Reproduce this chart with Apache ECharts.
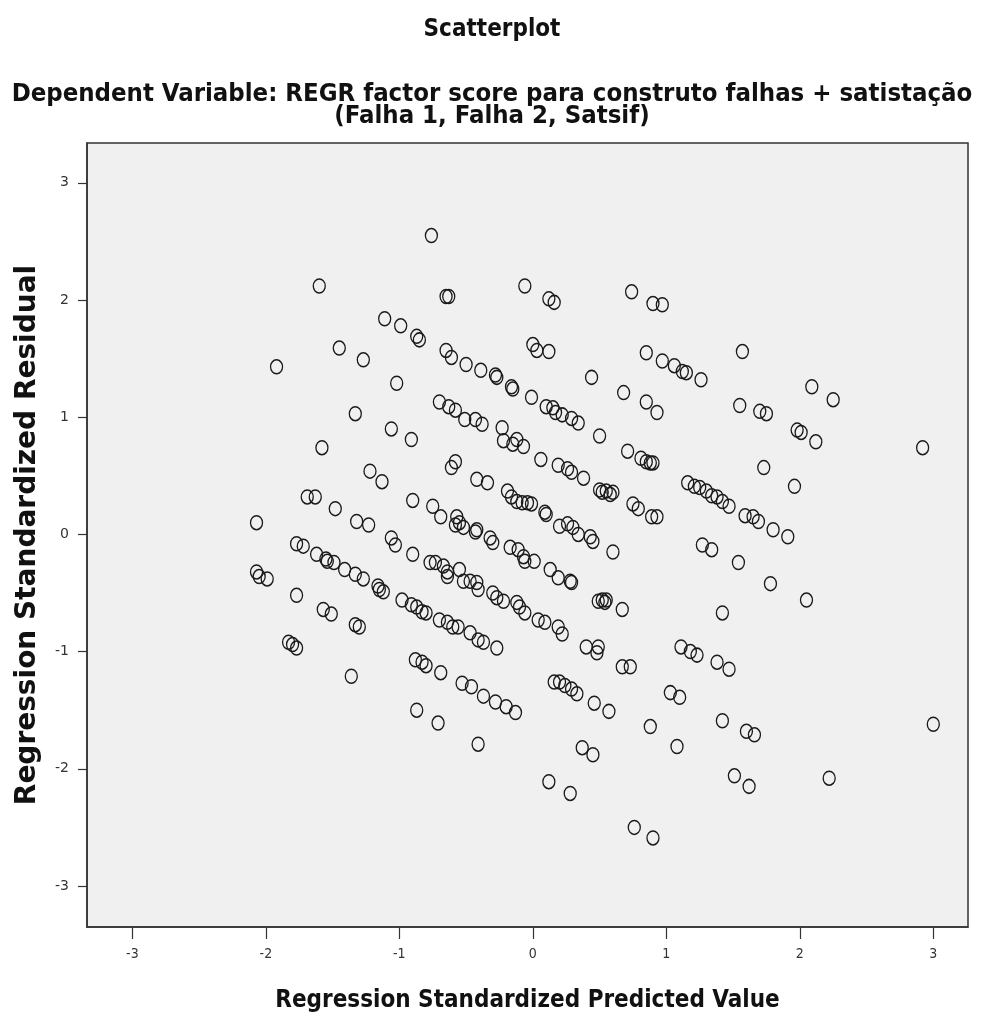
<!DOCTYPE html>
<html>
<head>
<meta charset="utf-8">
<script src="https://cdn.jsdelivr.net/npm/echarts@6/dist/echarts.min.js"></script>
<style>html,body{margin:0;padding:0;background:#fff}#c{width:984px;height:1020px}</style>
</head>
<body>
<div id="c"></div>
<script>
// Regression Standardized Predicted Value (x)
const predicted = [
-0.76,-1.60,-0.65,-0.63,-1.11,-0.99,-0.87,-0.85,-1.45,-1.27,-0.65,-0.61,-0.50,-0.39,-1.92,-1.02,-0.70,-0.63,-0.58,-0.51,-0.43,-1.33,-1.06,
-0.06,0.12,0.16,0.74,0.90,0.97,0.00,0.03,0.12,0.85,0.97,1.06,1.12,1.15,1.26,0.44,0.68,0.85,0.93,-0.28,-0.27,-0.16,-0.15,-0.01,0.10,0.15,0.17,0.22,0.29,0.34,-0.38,-0.23,
1.57,2.09,2.25,1.55,1.70,1.75,1.98,2.01,
2.12,2.92,1.73,1.96,1.16,1.21,1.25,1.30,1.34,1.38,1.42,1.47,1.59,1.65,1.69,1.80,1.91,1.27,1.34,1.54,1.78,2.05,1.42,
-0.91,-1.58,-1.22,-1.13,-0.61,-0.58,-0.42,-1.69,-1.63,-1.48,-0.90,-0.75,-0.69,-0.57,-0.55,-0.58,-0.52,-0.43,-0.42,-2.07,-1.32,-1.23,-1.06,-1.03,-0.90,
-1.77,-1.72,-1.62,-1.55,-1.54,-1.49,-1.41,-1.33,-1.27,-1.16,-1.15,-1.12,
-0.77,-0.73,-0.67,-0.64,-0.64,-0.55,-0.52,-0.47,-0.42,-0.41,
-2.07,-2.05,-1.99,-1.77,-0.98,-0.91,-0.87,-0.83,-0.80,-1.57,-1.51,-1.33,-1.30,-0.70,-0.64,-0.60,-0.56,
-0.22,-0.15,-0.12,-0.07,0.50,0.71,0.81,0.85,0.88,0.90,0.06,0.19,0.26,0.29,0.38,-0.34,
0.50,0.52,0.55,0.58,0.60,-0.19,-0.16,-0.12,-0.08,-0.04,-0.01,0.09,0.10,0.75,0.79,0.89,0.93,
0.20,0.26,0.30,0.34,0.43,0.45,0.60,-0.32,-0.30,-0.17,-0.11,-0.07,-0.06,0.01,0.13,0.19,0.28,0.29,
0.49,0.52,0.55,0.54,0.67,-0.30,-0.27,-0.22,-0.12,-0.10,-0.06,0.04,0.09,0.19,
0.22,0.40,0.49,0.48,0.67,0.73,1.11,1.18,1.23,-0.47,-0.41,-0.37,-0.27,-0.46,-0.37,-0.28,-0.20,-0.13,
0.16,0.20,0.24,0.29,0.33,0.46,0.57,1.03,1.10,0.88,1.08,-0.41,0.37,0.45,0.12,0.28,0.76,0.90,
-1.83,-1.80,-1.77,-0.88,-0.83,-0.80,-0.69,-0.53,-1.36,-0.87,-0.71,
1.38,1.47,1.42,1.60,1.66,3.00,1.51,1.62,2.22
];
// Regression Standardized Residual (y)
const residual = [
2.55,2.12,2.03,2.03,1.84,1.78,1.69,1.66,1.59,1.49,1.57,1.51,1.45,1.40,1.43,1.29,1.13,1.09,1.06,0.98,0.98,1.03,0.90,
2.12,2.01,1.98,2.07,1.97,1.96,1.62,1.57,1.56,1.55,1.48,1.44,1.39,1.38,1.32,1.34,1.21,1.13,1.04,1.36,1.34,1.26,1.24,1.17,1.09,1.08,1.04,1.02,0.99,0.95,0.94,0.91,
1.56,1.26,1.15,1.10,1.05,1.03,0.89,0.87,
0.79,0.74,0.57,0.41,0.44,0.41,0.40,0.37,0.33,0.32,0.28,0.24,0.16,0.15,0.11,0.04,-0.02,-0.09,-0.13,-0.24,-0.42,-0.56,-0.67,
0.81,0.74,0.54,0.45,0.57,0.62,0.47,0.32,0.32,0.22,0.29,0.24,0.15,0.15,0.10,0.08,0.06,0.02,0.04,0.10,0.11,0.08,-0.03,-0.09,-0.17,
-0.08,-0.10,-0.17,-0.21,-0.23,-0.24,-0.30,-0.34,-0.38,-0.44,-0.47,-0.49,
-0.24,-0.24,-0.27,-0.32,-0.36,-0.30,-0.40,-0.40,-0.41,-0.47,
-0.32,-0.36,-0.38,-0.52,-0.56,-0.60,-0.62,-0.66,-0.67,-0.64,-0.68,-0.77,-0.79,-0.73,-0.75,-0.79,-0.79,
0.80,0.77,0.81,0.75,0.84,0.71,0.65,0.62,0.61,0.61,0.64,0.59,0.56,0.53,0.48,0.44,
0.38,0.36,0.37,0.34,0.36,0.37,0.32,0.28,0.27,0.27,0.26,0.19,0.17,0.26,0.22,0.15,0.15,
0.07,0.09,0.06,0.00,-0.02,-0.06,-0.15,-0.03,-0.07,-0.11,-0.13,-0.19,-0.23,-0.23,-0.30,-0.37,-0.40,-0.41,
-0.57,-0.56,-0.56,-0.58,-0.64,-0.50,-0.54,-0.57,-0.58,-0.62,-0.67,-0.73,-0.75,-0.79,
-0.85,-0.96,-0.96,-1.01,-1.13,-1.13,-0.96,-1.00,-1.03,-0.84,-0.90,-0.92,-0.97,-1.30,-1.38,-1.43,-1.47,-1.52,
-1.26,-1.26,-1.29,-1.32,-1.36,-1.44,-1.51,-1.35,-1.39,-1.64,-1.81,-1.79,-1.82,-1.88,-2.11,-2.21,-2.50,-2.59,
-0.92,-0.94,-0.97,-1.07,-1.09,-1.12,-1.18,-1.27,-1.21,-1.50,-1.61,
-1.09,-1.15,-1.59,-1.68,-1.71,-1.62,-2.06,-2.15,-2.08
];
const tickValues = [-3, -2, -1, 0, 1, 2, 3];
const titleText = 'Scatterplot';
const subtitleText = 'Dependent Variable: REGR factor score para construto falhas + satistação\n(Falha 1, Falha 2, Satsif)';
const xTitle = 'Regression Standardized Predicted Value';
const yTitle = 'Regression Standardized Residual';

const points = predicted.map((x, i) => [x, residual[i]]);
const chart = echarts.init(document.getElementById('c'), null, {renderer: 'canvas'});
chart.setOption({
  backgroundColor: '#ffffff',
  animation: false,
  title: [
    {text: titleText, left: 'center', top: 13,
     textStyle: {fontFamily: 'DejaVu Sans Condensed', fontWeight: 'bold', fontSize: 24, color: '#111'}},
    {text: subtitleText, left: 'center', top: 78,
     textStyle: {fontFamily: 'DejaVu Sans Condensed', fontWeight: 'bold', fontSize: 25.5, lineHeight: 22, color: '#111'}}
  ],
  grid: {left: 87, right: 16, top: 143, bottom: 93, show: true, outerBoundsMode: 'none', containLabel: false,
         backgroundColor: '#f0f0f0', borderColor: '#333', borderWidth: 1.5},
  xAxis: {
    type: 'value', min: -3.34, max: 3.26,
    name: xTitle, nameLocation: 'middle', nameGap: 62,
    nameTextStyle: {fontFamily: 'DejaVu Sans Condensed', fontWeight: 'bold', fontSize: 24, color: '#111'},
    axisLine: {show: true, onZero: false, lineStyle: {color: '#333', width: 1.5}},
    axisTick: {show: true, length: 12, customValues: tickValues, lineStyle: {color: '#333', width: 1.2}},
    axisLabel: {customValues: tickValues, margin: 20, fontFamily: 'DejaVu Sans Condensed', fontSize: 14, color: '#333'},
    splitLine: {show: false}
  },
  yAxis: {
    type: 'value', min: -3.35, max: 3.34,
    name: yTitle, nameLocation: 'middle', nameGap: 45,
    nameTextStyle: {fontFamily: 'DejaVu Sans', fontWeight: 'bold', fontSize: 28, color: '#111'},
    axisLine: {show: true, onZero: false, lineStyle: {color: '#333', width: 1.5}},
    axisTick: {show: true, length: 9, customValues: tickValues, lineStyle: {color: '#333', width: 1.2}},
    axisLabel: {customValues: tickValues, margin: 18, fontFamily: 'DejaVu Sans', fontSize: 14, color: '#333'},
    splitLine: {show: false}
  },
  series: [{
    type: 'scatter',
    data: points,
    symbol: 'path://M0,-1A1,1,0,1,1,0,1A1,1,0,1,1,0,-1Z',
    symbolSize: [12, 14],
    itemStyle: {color: 'rgba(0,0,0,0)', borderColor: '#1a1a1a', borderWidth: 1.4, opacity: 1},
    emphasis: {disabled: true}
  }]
});
</script>
</body>
</html>
